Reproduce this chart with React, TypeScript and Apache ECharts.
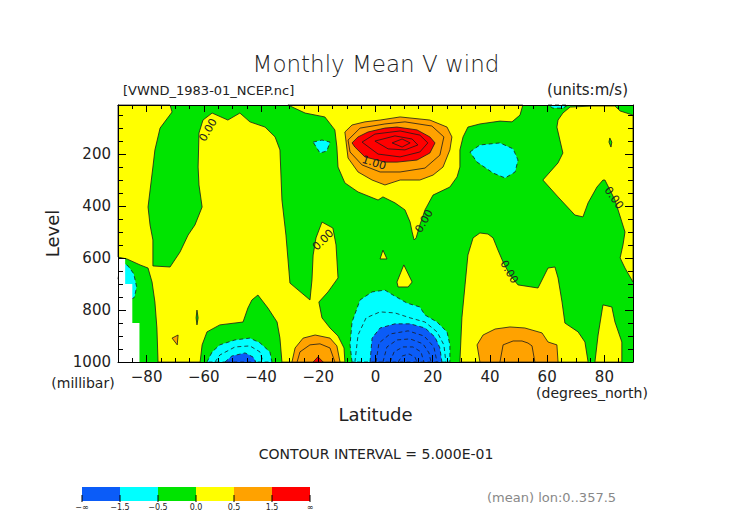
import React, { useEffect, useRef } from 'react';
import * as echarts from 'echarts';

// ---- axes ----
const latLabels = [-80, -60, -40, -20, 0, 20, 40, 60, 80];
const latMinorTicks = [-85, -75, -70, -65, -55, -50, -45, -35, -30, -25, -15, -10, -5, 5, 10, 15, 25, 30, 35, 45, 50, 55, 65, 70, 75, 85];
const levelLabels = [200, 400, 600, 800, 1000];
const levelMinorTicks = [50, 100, 150, 250, 300, 350, 450, 500, 550, 650, 700, 750, 850, 900, 950];

// ---- shading legend ----
const shadeBreaks = ['−∞', '−1.5', '−0.5', '0.0', '0.5', '1.5', '∞'];
const shadeColors = ['#0b5cf8', '#00ffff', '#00e400', '#ffff00', '#ffa200', '#ff0000'];

// ---- shaded regions [lat, level(mb)] ----
const yellowWest = [[-90, 10], [-71.8, 10], [-71.1, 37], [-75.3, 99], [-77.1, 183], [-77.8, 249], [-79.5, 403], [-78.8, 472], [-77.8, 530], [-77.8, 630], [-71.8, 634], [-68.3, 576], [-65.5, 511], [-63.1, 472], [-60.6, 403], [-61.7, 318], [-62.0, 249], [-61.7, 118], [-60.3, 68], [-57.1, 41], [-51.6, 68], [-47.4, 41], [-43.9, 75], [-38.6, 95], [-35.1, 133], [-33.4, 183], [-32.7, 376], [-31.3, 511], [-29.9, 696], [-22.9, 761], [-22.2, 684], [-21.8, 588], [-20.8, 522], [-18.7, 461], [-14.9, 484], [-13.8, 549], [-13.1, 676], [-16.6, 730], [-19.8, 769], [-18.7, 830], [-15.9, 869], [-13.1, 900], [-11.0, 946], [-10.7, 1000], [-32.7, 1000], [-33.4, 908], [-34.4, 846], [-37.6, 792], [-41.1, 742], [-43.2, 761], [-44.6, 792], [-46.3, 846], [-54.4, 857], [-58.9, 884], [-60.6, 934], [-61.3, 1000], [-76.0, 1000], [-76.4, 869], [-77.1, 769], [-78.1, 692], [-79.5, 638], [-82.3, 626], [-86.9, 603], [-90, 596]];
const yellowCentral = [[-30.6, 10], [51.5, 10], [50.5, 49], [47.7, 75], [43.5, 72], [36.5, 83], [32.3, 95], [30.6, 133], [29.5, 183], [29.5, 249], [28.5, 287], [26.0, 326], [20.1, 357], [17.3, 414], [15.5, 472], [14.2, 522], [13.5, 530], [12.8, 499], [12.1, 461], [10.3, 414], [6.8, 387], [2.6, 364], [0.9, 376], [-6.1, 345], [-10.7, 310], [-13.1, 249], [-13.5, 172], [-14.2, 106], [-17.7, 56], [-24.6, 41]];
const yellowNorthUpper = [[63.8, 68], [65.5, 41], [68.0, 18], [75.7, 14], [83.7, 14], [85.5, 33], [90, 49], [90, 692], [87.2, 638], [85.5, 599], [86.5, 549], [87.2, 499], [83.7, 376], [80.2, 299], [79.5, 299], [77.4, 326], [74.3, 387], [72.5, 441], [69.7, 434], [63.8, 364], [58.5, 299], [63.8, 233], [65.5, 195], [63.4, 95]];
const yellowNorthLower = [[29.5, 1000], [30.2, 830], [31.3, 703], [32.3, 588], [34.1, 522], [36.5, 503], [39.3, 507], [41.1, 522], [42.8, 569], [44.6, 615], [47.0, 665], [49.8, 703], [56.8, 715], [60.3, 638], [62.7, 634], [63.8, 676], [65.2, 769], [66.2, 850], [70.8, 884], [73.2, 923], [74.3, 1000]];
const yellowSpike = [[76.7, 1000], [77.8, 896], [79.5, 780], [82.6, 788], [83.7, 846], [86.1, 923], [86.1, 1000]];
const yellowTriA = [[1.6, 603], [2.6, 569], [4.0, 603]];
const yellowTriB = [[9.9, 626], [12.8, 692], [11.4, 711], [7.9, 711], [7.5, 692]];
const greenSliver = [[-62.4, 800], [-62.0, 830], [-62.4, 857], [-62.7, 830]];
const greenDiamond = [[81.9, 137], [82.6, 153], [82.3, 172], [81.6, 153]];
const orangeUpper = [[-10.7, 114], [-8.2, 87], [-3.7, 75], [1.6, 68], [8.6, 56], [19.0, 68], [25.0, 95], [26.7, 133], [26.0, 183], [23.6, 249], [20.1, 280], [15.5, 299], [8.6, 299], [3.3, 318], [-1.2, 299], [-6.1, 268], [-9.6, 214]];
const orangeSouth = [[-29.2, 1000], [-28.1, 946], [-25.3, 908], [-21.1, 896], [-15.9, 908], [-13.5, 938], [-12.4, 1000]];
const orangeNorth = [[36.5, 1000], [35.5, 934], [37.6, 896], [41.8, 873], [47.0, 865], [52.2, 869], [58.2, 888], [60.3, 923], [63.4, 934], [63.8, 1000]];
const orangeSpeck = [[-71.1, 908], [-69.0, 896], [-69.3, 934]];
const redUpper = [[-8.2, 156], [-6.1, 133], [-2.6, 114], [3.3, 99], [7.5, 95], [14.5, 106], [19.0, 133], [20.8, 156], [19.0, 195], [14.5, 222], [7.5, 230], [3.3, 230], [-3.7, 210], [-7.2, 172]];
const redSouth = [[-21.8, 1000], [-20.1, 980], [-18.3, 1000]];
const cyanUpperSmall = [[-21.8, 153], [-18.7, 145], [-15.9, 153], [-17.0, 187], [-19.4, 195]];
const cyanNorthUpper = [[33.0, 191], [36.5, 164], [43.5, 156], [48.1, 179], [49.8, 222], [48.8, 268], [45.3, 291], [41.1, 272], [35.5, 230]];
const cyanTopEdge = [[60.3, 10], [67.3, 10], [65.5, 22], [62.0, 22]];
const cyanPolar = [[-89, 610], [-86.5, 630], [-84.5, 660], [-83.5, 710], [-84.2, 750], [-85.5, 760], [-87.5, 720], [-90, 680]];
const cyanSouthLow = [[-58.9, 1000], [-57.1, 961], [-54.4, 934], [-49.1, 915], [-43.9, 908], [-40.4, 926], [-36.9, 961], [-36.2, 1000]];
const cyanEquatorLow = [[-8.2, 1000], [-8.9, 934], [-8.2, 846], [-5.4, 761], [-1.2, 730], [3.3, 723], [6.1, 742], [11.0, 773], [15.5, 788], [17.3, 819], [21.5, 846], [25.0, 884], [26.0, 934], [26.0, 1000]];
const blueSouthLow = [[-52.6, 1000], [-50.2, 977], [-45.6, 965], [-42.8, 981], [-41.8, 1000]];
const blueEquatorLow = [[-1.9, 1000], [-1.2, 908], [1.6, 869], [6.8, 853], [12.1, 853], [17.3, 869], [20.8, 904], [22.5, 946], [23.2, 1000]];
const missingPolar = [[-90, 600], [-87.5, 600], [-87.5, 700], [-85, 700], [-85, 850], [-82.5, 850], [-82.5, 1000], [-90, 1000]];

// ---- contour lines inside shades ----
const contourOneUpper = [[-9.6, 145], [-5.4, 99], [3.3, 83], [10.3, 75], [19.7, 91], [23.9, 133], [22.5, 203], [17.3, 253], [8.6, 268], [1.6, 268], [-4.7, 241], [-8.9, 191], [-9.6, 145]];
const contourTwoUpper = [[-4.7, 153], [-0.2, 122], [8.6, 110], [15.5, 126], [18.3, 156], [15.5, 191], [8.6, 210], [0.9, 199], [-4.7, 153]];
const contourTwoHalfUpper = [[-0.2, 149], [6.8, 129], [12.8, 141], [14.8, 164], [10.3, 183], [4.4, 179], [-0.2, 149]];
const contourThreeUpper = [[5.8, 156], [9.3, 141], [12.1, 156], [9.3, 172], [5.8, 156]];
const contourOneSouth = [[-27.4, 1000], [-26.4, 961], [-22.9, 934], [-19.4, 930], [-15.9, 946], [-14.2, 1000]];
const contourOneNorth = [[43.5, 1000], [44.6, 934], [48.1, 919], [51.2, 919], [53.3, 927], [54.7, 938], [55.7, 1000]];
const contourNegSouth = [[-56.1, 1000], [-54.4, 973], [-49.1, 942], [-43.9, 938], [-40.4, 961], [-39.3, 1000]];
const contourNegEquator = [[-7.2, 1000], [-6.1, 896], [-3.3, 830], [1.6, 807], [6.8, 811], [12.1, 830], [17.3, 846], [21.5, 884], [23.9, 934], [24.6, 1000]];
const contourNeg2 = [[0.2, 1000], [1.2, 927], [5.1, 892], [11.4, 880], [17.0, 900], [20.4, 942], [21.5, 1000]];
const contourNeg25 = [[2.6, 1000], [4.0, 942], [7.5, 915], [12.1, 911], [16.6, 930], [18.7, 965], [19.4, 1000]];
const contourNeg3 = [[5.1, 1000], [6.5, 961], [9.6, 942], [13.1, 942], [15.9, 961], [16.9, 1000]];
const contourNeg35 = [[7.9, 1000], [9.3, 977], [11.7, 969], [13.8, 981], [14.5, 1000]];

// ---- contour labels [lat, level, text, angle] ----
const contourLabels: [number, number, string, number][] = [
  [-58.5, 106, '0.00', 60],
  [-18.3, 530, '0.00', 45],
  [17.0, 457, '0.00', 60],
  [46.7, 653, '0.00', -60],
  [83.3, 368, '0.00', -55],
  [-0.5, 233, '1.00', -18],
];

const fillLayers = [
  { pts: yellowWest, c: 3 }, { pts: yellowCentral, c: 3 }, { pts: yellowNorthUpper, c: 3 },
  { pts: yellowNorthLower, c: 3 }, { pts: yellowSpike, c: 3 }, { pts: yellowTriA, c: 3 }, { pts: yellowTriB, c: 3 },
  { pts: greenSliver, c: 2 }, { pts: greenDiamond, c: 2 },
  { pts: orangeUpper, c: 4 }, { pts: orangeSouth, c: 4 }, { pts: orangeNorth, c: 4 }, { pts: orangeSpeck, c: 4 },
  { pts: redUpper, c: 5 }, { pts: redSouth, c: 5 },
  { pts: cyanUpperSmall, c: 1 }, { pts: cyanNorthUpper, c: 1 }, { pts: cyanTopEdge, c: 1 }, { pts: cyanPolar, c: 1 },
  { pts: cyanSouthLow, c: 1 }, { pts: cyanEquatorLow, c: 1 },
  { pts: blueSouthLow, c: 0 }, { pts: blueEquatorLow, c: 0 },
  { pts: missingPolar, c: -1 },
];

const lineLayers = [
  { pts: contourOneUpper, dash: false }, { pts: contourTwoUpper, dash: false },
  { pts: contourTwoHalfUpper, dash: false }, { pts: contourThreeUpper, dash: false },
  { pts: contourOneSouth, dash: false }, { pts: contourOneNorth, dash: false },
  { pts: contourNegSouth, dash: true }, { pts: contourNegEquator, dash: true },
  { pts: contourNeg2, dash: true }, { pts: contourNeg25, dash: true },
  { pts: contourNeg3, dash: true }, { pts: contourNeg35, dash: true },
];

const FONT = 'DejaVu Sans';
const INK = '#222';

const fmtLat = (v: number) => (v < 0 ? '−' + Math.abs(v) : String(v));
const fmtLevel = (v: number) => String(v);

function xAxisDef(position: 'top' | 'bottom', ticks: number[], len: number, line: boolean, labels: boolean) {
  const ax: any = {
    type: 'value', min: -90, max: 90, position, z: 6,
    axisLine: { show: line, onZero: false, lineStyle: { color: '#000', width: 1 } },
    axisTick: { show: true, inside: true, length: len, customValues: ticks, lineStyle: { color: '#000', width: 1 } },
    axisLabel: labels
      ? { show: true, customValues: latLabels, formatter: fmtLat, color: INK, fontSize: 15, fontFamily: FONT, margin: 7 }
      : { show: false },
    splitLine: { show: false },
  };
  if (labels) {
    ax.name = 'Latitude';
    ax.nameLocation = 'middle';
    ax.nameGap = 43;
    ax.nameTextStyle = { fontSize: 18, color: INK, fontFamily: FONT };
  }
  return ax;
}

function yAxisDef(position: 'left' | 'right', ticks: number[], len: number, line: boolean, labels: boolean) {
  const ax: any = {
    type: 'value', min: 10, max: 1000, inverse: true, position, z: 6,
    axisLine: { show: line, onZero: false, lineStyle: { color: '#000', width: 1 } },
    axisTick: { show: true, inside: true, length: len, customValues: ticks, lineStyle: { color: '#000', width: 1 } },
    axisLabel: labels
      ? { show: true, customValues: levelLabels, formatter: fmtLevel, color: INK, fontSize: 15, fontFamily: FONT, margin: 7 }
      : { show: false },
    splitLine: { show: false },
  };
  if (labels) {
    ax.name = 'Level';
    ax.nameLocation = 'middle';
    ax.nameGap = 46;
    ax.nameRotate = 90;
    ax.nameTextStyle = { fontSize: 18, color: INK, fontFamily: FONT };
  }
  return ax;
}

const legendGraphics: any[] = [];
shadeColors.forEach((c, i) => {
  legendGraphics.push({ type: 'rect', shape: { x: 82 + i * 38, y: 487, width: 38, height: 14 }, style: { fill: c }, silent: true });
});
shadeBreaks.forEach((t, i) => {
  legendGraphics.push({ type: 'line', shape: { x1: 82 + i * 38, y1: 495, x2: 82 + i * 38, y2: 502 }, style: { stroke: '#000', lineWidth: 1 } });
  legendGraphics.push({ type: 'text', x: 82 + i * 38, y: 507, style: { text: t, fontSize: 8, fill: INK, fontFamily: FONT, align: 'center', verticalAlign: 'middle' } });
});

const option: any = {
  animation: false,
  backgroundColor: '#fff',
  title: {
    text: 'Monthly Mean V wind', left: 'center', top: 47,
    textStyle: { fontSize: 23, fontWeight: 200, color: INK, fontFamily: FONT },
  },
  grid: { left: 118, right: 119, top: 105, bottom: 170, show: true, backgroundColor: shadeColors[2], borderWidth: 0 },
  xAxis: [
    xAxisDef('bottom', latLabels, 7, true, true),
    xAxisDef('bottom', latMinorTicks, 4, false, false),
    xAxisDef('top', latLabels, 7, true, false),
    xAxisDef('top', latMinorTicks, 4, false, false),
  ],
  yAxis: [
    yAxisDef('left', levelLabels, 8, true, true),
    yAxisDef('left', levelMinorTicks, 5, false, false),
    yAxisDef('right', levelLabels, 8, true, false),
    yAxisDef('right', levelMinorTicks, 5, false, false),
  ],
  series: [
    {
      type: 'custom', xAxisIndex: 0, yAxisIndex: 0, silent: true, z: 2,
      data: fillLayers.map((l) => l.pts[0]),
      renderItem: (params: any, api: any) => {
        const l = fillLayers[params.dataIndex];
        const points = l.pts.map((p) => api.coord(p));
        const fill = l.c < 0 ? '#ffffff' : shadeColors[l.c];
        return {
          type: 'polygon', shape: { points },
          style: {
            fill,
            stroke: l.c < 0 ? 'none' : '#1a1a1a',
            lineWidth: 0.8,
            lineDash: l.c >= 0 && l.c <= 1 ? [4, 3] : null,
          },
        };
      },
    },
    {
      type: 'custom', xAxisIndex: 0, yAxisIndex: 0, silent: true, z: 3,
      data: lineLayers.map((l) => l.pts[0]),
      renderItem: (params: any, api: any) => {
        const l = lineLayers[params.dataIndex];
        const points = l.pts.map((p) => api.coord(p));
        return {
          type: 'polyline', shape: { points },
          style: { fill: 'none', stroke: '#1a1a1a', lineWidth: 0.8, lineDash: l.dash ? [4, 3] : null },
        };
      },
    },
    {
      type: 'custom', xAxisIndex: 0, yAxisIndex: 0, silent: true, z: 4,
      data: contourLabels.map((l) => [l[0], l[1]]),
      renderItem: (params: any, api: any) => {
        const l = contourLabels[params.dataIndex];
        const p = api.coord([l[0], l[1]]);
        return {
          type: 'text', x: p[0], y: p[1], rotation: (l[3] * Math.PI) / 180,
          style: { text: l[2], fontSize: 11, fill: INK, fontFamily: FONT, align: 'center', verticalAlign: 'middle' },
        };
      },
    },
  ],
  graphic: [
    { type: 'text', left: 123, top: 84, style: { text: '[VWND_1983-01_NCEP.nc]', fontSize: 13, fill: INK, fontFamily: FONT } },
    { type: 'text', right: 124, top: 82, style: { text: '(units:m/s)', fontSize: 15, fill: INK, fontFamily: FONT } },
    { type: 'text', x: 83, y: 383, style: { text: '(millibar)', fontSize: 14, fill: INK, fontFamily: FONT, align: 'center', verticalAlign: 'middle' } },
    { type: 'text', x: 592, y: 393, style: { text: '(degrees_north)', fontSize: 14, fill: INK, fontFamily: FONT, align: 'center', verticalAlign: 'middle' } },
    { type: 'text', x: 376, y: 454, style: { text: 'CONTOUR INTERVAL = 5.000E-01', fontSize: 14, fill: INK, fontFamily: FONT, align: 'center', verticalAlign: 'middle' } },
    { type: 'text', x: 487, y: 497, style: { text: '(mean) lon:0..357.5', fontSize: 13, fill: '#888', fontFamily: FONT, align: 'left', verticalAlign: 'middle' } },
    ...legendGraphics,
  ],
};

export default function App() {
  const ref = useRef<HTMLDivElement>(null);
  useEffect(() => {
    const chart = echarts.init(ref.current as HTMLDivElement, null, { renderer: 'svg' });
    chart.setOption(option);
    return () => chart.dispose();
  }, []);
  return <div ref={ref} style={{ position: 'fixed', left: 0, top: 0, width: 752, height: 532, background: '#fff' }} />;
}
